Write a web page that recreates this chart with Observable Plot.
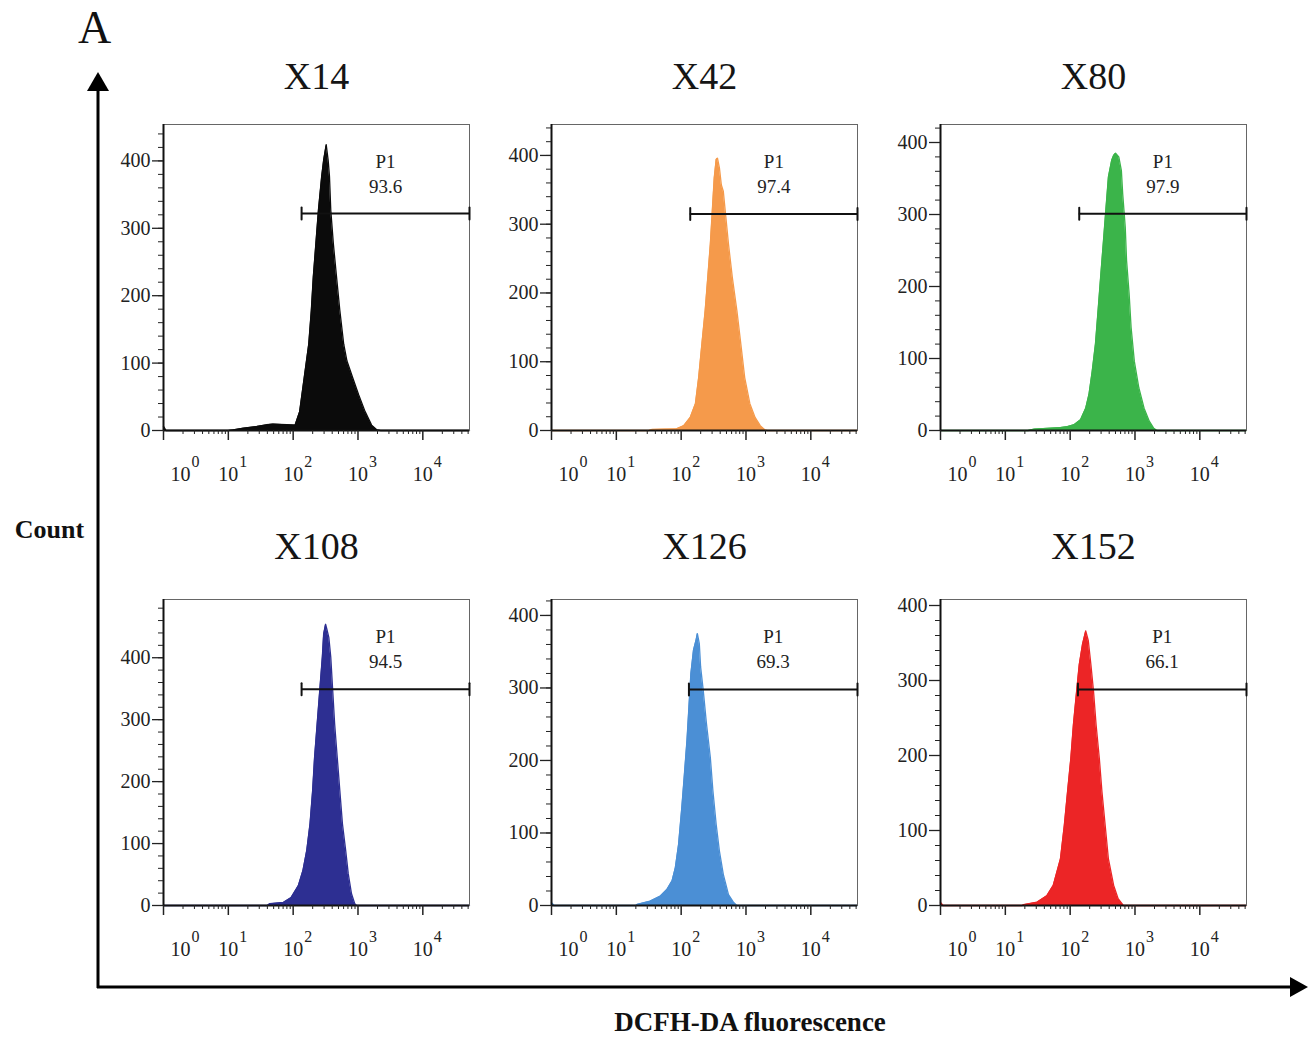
<!DOCTYPE html>
<html><head><meta charset="utf-8">
<script src="https://cdn.jsdelivr.net/npm/d3@7"></script>
<script src="https://cdn.jsdelivr.net/npm/@observablehq/plot@0.6"></script>
<style>
html,body{margin:0;padding:0;background:#fff;}
#root{position:relative;width:1309px;height:1039px;overflow:hidden;background:#fff;font-family:"Liberation Serif","Times New Roman",serif;}
#root svg{display:block;overflow:visible;}
</style></head><body><div id="root"></div>
<script>
// ---------- data ----------
const sampleNames = ["X14", "X42", "X80", "X108", "X126", "X152"];
const sampleColors = ["#0b0b0b", "#f59a4b", "#3bb44a", "#2d2f92", "#4b8fd5", "#ec2526"];
const gatePercent = ["93.6", "97.4", "97.9", "94.5", "69.3", "66.1"];
const gateStartDecade = [2.13, 2.14, 2.14, 2.13, 2.12, 2.12];
const gateCount = [322, 315, 301, 349, 298, 288];
const countAxisMax = [454, 445, 425, 494, 422, 408];
const countMajorTicks = [0, 100, 200, 300, 400];
const decadeTicks = [0, 1, 2, 3, 4];
const decadeMax = 4.72;
const gateName = "P1";

// histograms: [log10 fluorescence, count]
const histX14 = [[0,6],[0.04,0],[1.0,0],[1.08,1],[1.23,3.5],[1.44,6],[1.59,8.5],[1.69,9.5],[1.9,8.5],[2.03,8],[2.10,28],[2.17,78],[2.24,128],[2.28,178],[2.31,227],[2.35,277],[2.39,327],[2.44,377],[2.47,401],[2.51,424],[2.54,401],[2.56,377],[2.58,327],[2.62,277],[2.67,227],[2.72,178],[2.78,128],[2.83,103],[2.92,78],[3.01,53],[3.11,28],[3.21,8],[3.29,1],[3.35,0],[4.72,0]];
const histX42 = [[0,0],[1.5,0],[1.55,1.5],[1.93,2.5],[2.04,7],[2.14,19],[2.22,39],[2.27,77],[2.32,126],[2.37,174],[2.41,222],[2.45,271],[2.48,319],[2.51,367],[2.54,394],[2.56,396],[2.59,382],[2.62,357],[2.65,348],[2.68,319],[2.73,271],[2.79,222],[2.86,174],[2.92,126],[2.98,77],[3.06,39],[3.14,19],[3.22,7],[3.29,1],[3.33,0],[4.72,0]];
const histX80 = [[0,0],[1.35,0],[1.45,2],[1.65,3],[1.85,4],[1.96,5.5],[2.06,8],[2.16,15],[2.24,31],[2.29,50],[2.34,82],[2.39,120],[2.43,166],[2.47,213],[2.51,259],[2.55,306],[2.59,352],[2.64,375],[2.67,382],[2.70,385],[2.75,380],[2.79,361],[2.81,329],[2.85,282],[2.87,236],[2.91,189],[2.94,143],[2.99,96],[3.06,59],[3.14,31],[3.22,13],[3.29,3],[3.34,0],[4.72,0]];
const histX108 = [[0,0],[1.6,0],[1.64,3],[1.85,5],[1.97,13],[2.08,32],[2.15,56],[2.21,89],[2.26,132],[2.30,185],[2.33,239],[2.37,293],[2.41,347],[2.45,401],[2.47,438],[2.50,454],[2.52,446],[2.55,433],[2.58,401],[2.61,347],[2.64,293],[2.68,239],[2.72,185],[2.76,132],[2.81,89],[2.85,51],[2.90,19],[2.95,3],[2.98,0],[4.72,0]];
const histX126 = [[0,4],[0.04,0],[1.3,0],[1.32,1.4],[1.52,6],[1.68,13],[1.78,22],[1.86,34],[1.91,52],[1.96,84],[2.01,135],[2.05,181],[2.09,228],[2.12,274],[2.15,320],[2.19,352],[2.23,366],[2.25,375],[2.28,361],[2.30,329],[2.34,297],[2.39,251],[2.45,204],[2.49,158],[2.54,112],[2.59,75],[2.65,43],[2.73,15],[2.81,4],[2.86,0],[4.72,0]];
const histX152 = [[0,4],[0.04,0],[1.26,0],[1.28,1],[1.49,4.5],[1.64,13],[1.74,27],[1.85,62],[1.91,107],[1.96,152],[2.01,196],[2.05,241],[2.10,286],[2.14,321],[2.19,348],[2.24,366],[2.28,353],[2.32,321],[2.36,286],[2.40,241],[2.45,196],[2.49,152],[2.54,107],[2.59,62],[2.67,27],[2.74,9],[2.82,0],[4.72,0]];

const hists = [histX14, histX42, histX80, histX108, histX126, histX152];

// ---------- layout ----------
const FONT = '"Liberation Serif","Times New Roman",serif';
const M = {l: 62, r: 14, t: 70, b: 70};
const BOX = 306;
const boxLefts = [163, 551, 940];
const boxTops = [124, 599];
const titleDy = [-36, -41];
const capShape = {draw(context, l) { context.moveTo(0, 0); context.lineTo(0, -l); }};

function panel(i) {
  const row = Math.floor(i / 3);
  const color = sampleColors[i];
  const xMax = 10 ** decadeMax;
  const ymax = countAxisMax[i];
  const data = hists[i].map(([d, c]) => ({x: 10 ** d, y: c}));
  const g0 = 10 ** gateStartDecade[i];
  const majorX = decadeTicks.map(d => 10 ** d);
  const minorX = [];
  for (const d of decadeTicks) for (let k = 2; k <= 9; k++) { const v = k * 10 ** d; if (v < xMax) minorX.push(v); }
  const minorY = d3.range(0, ymax, 20);
  const ink = "#222";
  return Plot.plot({
    width: M.l + BOX + M.r, height: M.t + BOX + M.b,
    marginLeft: M.l, marginRight: M.r, marginTop: M.t, marginBottom: M.b,
    style: {fontFamily: FONT, fontSize: "20px", color: ink, background: "none", overflow: "visible"},
    x: {type: "log", domain: [1, xMax]},
    y: {domain: [0, ymax]},
    marks: [
      Plot.areaY(data, {x: "x", y: "y", fill: color, curve: "linear"}),
      Plot.lineY(data, {x: "x", y: "y", stroke: color, strokeWidth: 1.3}),
      Plot.frame({stroke: "#666", strokeWidth: 1}),
      Plot.ruleX([1], {stroke: "#111", strokeWidth: 2}),
      Plot.ruleY([0], {stroke: "#111", strokeWidth: 2}),
      Plot.axisY({ticks: minorY, tickSize: 5, tickFormat: () => "", label: null, stroke: ink}),
      Plot.axisY({ticks: countMajorTicks.filter(v => v <= ymax), tickSize: 11, tickPadding: 2, tickFormat: d => String(d), label: null, stroke: ink, strokeWidth: 1.3, fontSize: 20, fill: ink}),
      Plot.axisX({ticks: minorX, tickSize: 4, tickFormat: () => "", label: null, stroke: ink}),
      Plot.axisX({ticks: majorX, tickSize: 10, tickFormat: () => "", label: null, stroke: ink, strokeWidth: 1.5}),
      // decade labels: "10" with raised exponent
      Plot.text(majorX.slice(1), {x: d => d, text: () => "10", frameAnchor: "bottom", lineAnchor: "bottom", dy: 50, fontSize: 20, fill: ink}),
      Plot.text(majorX.slice(0, 1), {x: d => d, text: () => "10", frameAnchor: "bottom", lineAnchor: "bottom", dy: 50, dx: 17, fontSize: 20, fill: ink}),
      Plot.text(decadeTicks.slice(1), {x: d => 10 ** d, text: d => String(d), frameAnchor: "bottom", lineAnchor: "bottom", textAnchor: "start", dx: 11, dy: 36, fontSize: 16, fill: ink}),
      Plot.text(decadeTicks.slice(0, 1), {x: d => 10 ** d, text: d => String(d), frameAnchor: "bottom", lineAnchor: "bottom", textAnchor: "start", dx: 28, dy: 36, fontSize: 16, fill: ink}),
      // gate
      Plot.ruleY([gateCount[i]], {x1: g0, x2: xMax, stroke: "#111", strokeWidth: 2}),
      Plot.vector([g0, xMax], {x: d => d, y: gateCount[i], length: 12, rotate: 0, anchor: "middle", shape: capShape, stroke: "#111", strokeWidth: 2}),
      Plot.text([gateName + "\n" + gatePercent[i]], {x: Math.sqrt(g0 * xMax), text: d => d, frameAnchor: "top", lineAnchor: "top", dy: 26, fontSize: 19, lineHeight: 1.32, fill: "#222"}),
      // title
      Plot.text([sampleNames[i]], {text: d => d, frameAnchor: "top", lineAnchor: "bottom", dy: titleDy[row], fontSize: 38, fill: "#151515"})
    ]
  });
}

const root = document.getElementById("root");
hists.forEach((h, i) => {
  const svg = panel(i);
  svg.style.position = "absolute";
  svg.style.left = (boxLefts[i % 3] - M.l) + "px";
  svg.style.top = (boxTops[Math.floor(i / 3)] - M.t) + "px";
  root.appendChild(svg);
});

// overall frame: arrows and shared labels
const ns = "http://www.w3.org/2000/svg";
const ov = document.createElementNS(ns, "svg");
ov.setAttribute("width", 1309); ov.setAttribute("height", 1039);
ov.style.position = "absolute"; ov.style.left = "0px"; ov.style.top = "0px"; ov.style.pointerEvents = "none";
ov.innerHTML = `
  <line x1="98" y1="88" x2="98" y2="988" stroke="#000" stroke-width="3"/>
  <polygon points="87,91 109,91 98,72" fill="#000"/>
  <line x1="97" y1="987" x2="1292" y2="987" stroke="#000" stroke-width="3"/>
  <polygon points="1290,977 1290,997 1308,987" fill="#000"/>
  <text x="94.5" y="43" text-anchor="middle" font-family='${FONT}' font-size="46" fill="#111">A</text>
  <text x="49.5" y="538" text-anchor="middle" font-family='${FONT}' font-size="26" font-weight="bold" fill="#111">Count</text>
  <text x="750" y="1031" text-anchor="middle" font-family='${FONT}' font-size="27" font-weight="bold" fill="#111">DCFH-DA fluorescence</text>
`;
root.appendChild(ov);
</script>
</body></html>
